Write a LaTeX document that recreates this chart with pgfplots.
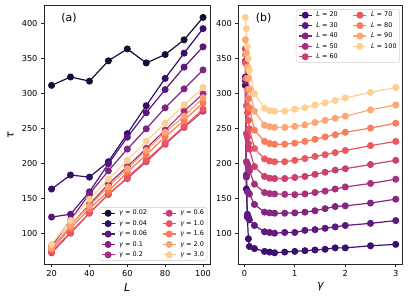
\documentclass[border=0pt]{standalone}
\usepackage{fontspec}
\setmainfont{DejaVu Sans}
\usepackage{pgfplots}
\pgfplotsset{compat=1.18}
\usepackage{pgfplotstable}

\definecolor{a1}{HTML}{140E36}
\definecolor{a2}{HTML}{360F6B}
\definecolor{a3}{HTML}{5C177F}
\definecolor{a4}{HTML}{7F2482}
\definecolor{a5}{HTML}{A3307E}
\definecolor{a6}{HTML}{C93E72}
\definecolor{a7}{HTML}{EB5760}
\definecolor{a8}{HTML}{F97B5D}
\definecolor{a9}{HTML}{FEA470}
\definecolor{a10}{HTML}{FECF92}

\definecolor{b1}{HTML}{3B0F70}
\definecolor{b2}{HTML}{5F187F}
\definecolor{b3}{HTML}{822681}
\definecolor{b4}{HTML}{A6317D}
\definecolor{b5}{HTML}{CC3F71}
\definecolor{b6}{HTML}{EC5860}
\definecolor{b7}{HTML}{F97C5D}
\definecolor{b8}{HTML}{FEA671}
\definecolor{b9}{HTML}{FECF92}

% panel (a): tau vs L for several gamma
\pgfplotstableread{
L   g002 g004 g006 g01 g02 g06   g10   g16   g20 g30
20  312  164  124  82  79  73    75    78    80  85
30  324  184  128  120 112 101   102   108   112 119
40  318  181  160  157 142 129.5 130   136   140 149.5
50  347  203  200  190 171 157   156   161   167 178
60  364  243  238  221 196 179   180.5 188   193 205
70  344  283  273  250 222 203   205   213   219 232
80  356  322  306  280 248 228   229.5 238.5 245 258
90  377  358  338  307 275 252   253.5 262   268 284
100 409  393  367  334 300 275   278   287   294 309
}\tabA

% panel (b): tau vs gamma for several L
\pgfplotstableread{
g    L20 L30 L40   L50   L60   L70   L80   L90   L100
0.02 312 324 318   347   364   344   356   377   409
0.04 164 184 181   203   243   283   322   358   393
0.06 124 128 160   200   238   273   306   338   367
0.08 93  124 159   195   229   262   293   322   350
0.1  82  120 157   190   221   250   280   307   334
0.2  79  112 142   171   196   222   248   275   300
0.4  75  103 131   159   182   207   232   255   279.5
0.5  74  102 130   157.5 179.5 204   229   253   276
0.6  73  101 129.5 157   179   203   228   252   275
0.8  74  102 129.5 156.5 179   203   228   252   275
1.0  75  102 130   156   180.5 205   229.5 253.5 278
1.2  76  105 131   157   182   207.5 232   255.5 280
1.4  77  106 133   159   185   210.5 235   259   284
1.6  78  108 136   161   188   213   238.5 262   287
1.8  80  110 139   164   191   216   241.5 265   290.5
2.0  80  112 140   167   193   219   245   268   294
2.5  83  115 144   172   199   226   251   277   302
3.0  85  119 149.5 178   205   232   258   284   309
}\tabB

\pgfplotsset{
  st/.style={line width=1.2pt, mark=*, mark size=2.9pt, mark options={solid}},
  common/.style={
    scale only axis,
    tick pos=left, tick align=outside, major tick length=3pt,
    ymin=57, ymax=426, ytick={100,150,...,400},
    ticklabel style={font=\fontsize{8.2}{9}\selectfont},
    /pgf/number format/assume math mode=true,
    axis line style={black!85, line width=0.8pt},
    tick style={black!85, line width=0.8pt},
    legend cell align=left,
    legend columns=2,
    legend style={font=\fontsize{6.5}{7}\selectfont, draw=black!20, rounded corners=2pt,
      fill=white, inner xsep=2pt, inner ysep=1.5pt, row sep=2.2pt,
      /tikz/every odd column/.append style={column sep=3pt},
      /tikz/every even column/.append style={column sep=14pt},
      nodes={inner sep=1pt, text height=4.8pt, text depth=1.4pt}},
    legend image code/.code={\draw[mark repeat=2,mark phase=2,##1] plot coordinates {(0pt,0pt) (6.5pt,0pt) (13pt,0pt)};},
    every axis x label/.style={at={(axis description cs:0.5,0)}, yshift=-23pt, anchor=center},
    every axis y label/.style={at={(axis description cs:0,0.5)}, xshift=-33.5pt, rotate=90, anchor=center},
    label style={font=\fontsize{11}{12}\selectfont},
  }
}

\begin{document}
\begin{tikzpicture}
\useasboundingbox (0,0) rectangle (409pt,300pt);

\begin{axis}[common, at={(44pt,36pt)}, anchor=south west,
  width=166.6pt, height=258.5pt,
  xmin=16, xmax=104, xtick={20,40,60,80,100},
  xlabel={\itshape L}, ylabel={\itshape τ},
  legend style={at={(0.98,0.013)}, anchor=south east}]
\addplot[st, color=a1, forget plot] table[x=L, y=g002] {\tabA};
\addplot[st, color=a2, forget plot] table[x=L, y=g004] {\tabA};
\addplot[st, color=a3, forget plot] table[x=L, y=g006] {\tabA};
\addplot[st, color=a4, forget plot] table[x=L, y=g01] {\tabA};
\addplot[st, color=a5, forget plot] table[x=L, y=g02] {\tabA};
\addplot[st, color=a6, forget plot] table[x=L, y=g06] {\tabA};
\addplot[st, color=a7, forget plot] table[x=L, y=g10] {\tabA};
\addplot[st, color=a8, forget plot] table[x=L, y=g16] {\tabA};
\addplot[st, color=a9, forget plot] table[x=L, y=g20] {\tabA};
\addplot[st, color=a10, forget plot] table[x=L, y=g30] {\tabA};
\addlegendimage{st, color=a1}\addlegendentry{{\itshape γ} = 0.02}
\addlegendimage{st, color=a6}\addlegendentry{{\itshape γ} = 0.6}
\addlegendimage{st, color=a2}\addlegendentry{{\itshape γ} = 0.04}
\addlegendimage{st, color=a7}\addlegendentry{{\itshape γ} = 1.0}
\addlegendimage{st, color=a3}\addlegendentry{{\itshape γ} = 0.06}
\addlegendimage{st, color=a8}\addlegendentry{{\itshape γ} = 1.6}
\addlegendimage{st, color=a4}\addlegendentry{{\itshape γ} = 0.1}
\addlegendimage{st, color=a9}\addlegendentry{{\itshape γ} = 2.0}
\addlegendimage{st, color=a5}\addlegendentry{{\itshape γ} = 0.2}
\addlegendimage{st, color=a10}\addlegendentry{{\itshape γ} = 3.0}
\node[font=\fontsize{11}{12}\selectfont] at (rel axis cs:0.15,0.952) {(a)};
\end{axis}

\begin{axis}[common, at={(238.3pt,36pt)}, anchor=south west,
  width=164pt, height=258.5pt,
  xmin=-0.12, xmax=3.13, xtick={0,1,2,3},
  xlabel={\itshape γ},
  legend style={at={(0.985,0.985)}, anchor=north east}]
\addplot[st, color=b1, forget plot] table[x=g, y=L20] {\tabB};
\addplot[st, color=b2, forget plot] table[x=g, y=L30] {\tabB};
\addplot[st, color=b3, forget plot] table[x=g, y=L40] {\tabB};
\addplot[st, color=b4, forget plot] table[x=g, y=L50] {\tabB};
\addplot[st, color=b5, forget plot] table[x=g, y=L60] {\tabB};
\addplot[st, color=b6, forget plot] table[x=g, y=L70] {\tabB};
\addplot[st, color=b7, forget plot] table[x=g, y=L80] {\tabB};
\addplot[st, color=b8, forget plot] table[x=g, y=L90] {\tabB};
\addplot[st, color=b9, forget plot] table[x=g, y=L100] {\tabB};
\addlegendimage{st, color=b1}\addlegendentry{{\itshape L} = 20}
\addlegendimage{st, color=b6}\addlegendentry{{\itshape L} = 70}
\addlegendimage{st, color=b2}\addlegendentry{{\itshape L} = 30}
\addlegendimage{st, color=b7}\addlegendentry{{\itshape L} = 80}
\addlegendimage{st, color=b3}\addlegendentry{{\itshape L} = 40}
\addlegendimage{st, color=b8}\addlegendentry{{\itshape L} = 90}
\addlegendimage{st, color=b4}\addlegendentry{{\itshape L} = 50}
\addlegendimage{st, color=b9}\addlegendentry{{\itshape L} = 100}
\addlegendimage{st, color=b5}\addlegendentry{{\itshape L} = 60}
\node[font=\fontsize{11}{12}\selectfont] at (rel axis cs:0.154,0.952) {(b)};
\end{axis}
\end{tikzpicture}
\end{document}
